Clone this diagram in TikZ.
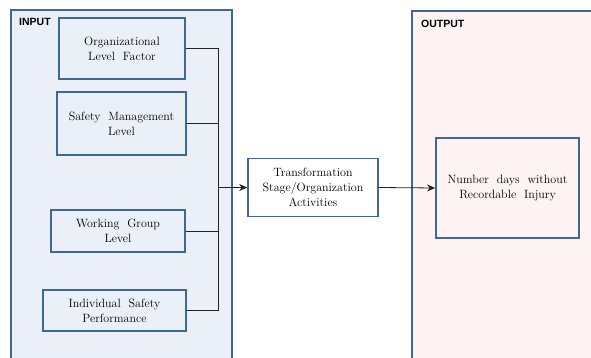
\documentclass[tikz,border=0pt]{standalone}
\usepackage{fontspec}
\newfontfamily\labfont{Liberation Sans}
\usetikzlibrary{arrows.meta}
\definecolor{bordblue}{HTML}{41679A}
\definecolor{inputfill}{HTML}{EBF0F8}
\definecolor{outputfill}{HTML}{FEF3F3}
\definecolor{linegray}{HTML}{222222}
\begin{document}
\begin{tikzpicture}[x=1pt,y=-1pt,
  panel/.style={draw=bordblue,line width=2pt},
  boxnode/.style={draw=bordblue,line width=1.8pt,align=center,inner sep=0pt,
    font=\rmfamily\fontsize{12}{15}\selectfont},
  conn/.style={draw=linegray,line width=0.8pt},
  arr/.style={conn,-{Stealth[length=8pt,width=7pt]}},
  paneltitle/.style={font=\labfont\bfseries\fontsize{10.5}{11}\selectfont,anchor=west,inner sep=0pt}]
\useasboundingbox (0,0) rectangle (591,358);
\clip (0,0) rectangle (591,358);
% panels
\path[panel,fill=inputfill] (11,10) rectangle (232,370);
\path[panel,fill=outputfill] (412,11) rectangle (600,370);
\node[paneltitle] (inlab) at (19,22) {INPUT};
\node[paneltitle] (outlab) at (421,24) {OUTPUT};
% input boxes
\node[boxnode,minimum width=126pt,minimum height=61pt] (b1) at (122,48.5) {Organizational\\Level\ \ Factor};
\node[boxnode,minimum width=129pt,minimum height=63pt] (b2) at (121.5,123.5) {Safety\ \ Management\\Level};
\node[boxnode,minimum width=134pt,minimum height=42pt] (b3) at (118,231) {Working\ \ Group\\Level};
\node[boxnode,minimum width=143pt,minimum height=41pt] (b4) at (114.5,310.5) {Individual\ \ Safety\\Performance};
% transformation
\node[boxnode,fill=white,minimum width=130pt,minimum height=58pt] (t) at (313,187.5) {Transformation\\Stage/Organization\\Activities};
% output
\node[boxnode,minimum width=143pt,minimum height=100pt] (o) at (507.5,188) {Number\ \ days\ \ without\\Recordable\ \ Injury};
% connectors
\coordinate (J) at (218,187.5);
\draw[conn] (b1.east) -| (J);
\draw[conn] (b4.east) -| (J);
\draw[conn] (b2.east) -- (b2.east -| J);
\draw[conn] (b3.east) -- (b3.east -| J);
\draw[arr] (J) -- (t.west);
\draw[arr] (t.east) -- (o.west);
\end{tikzpicture}
\end{document}
